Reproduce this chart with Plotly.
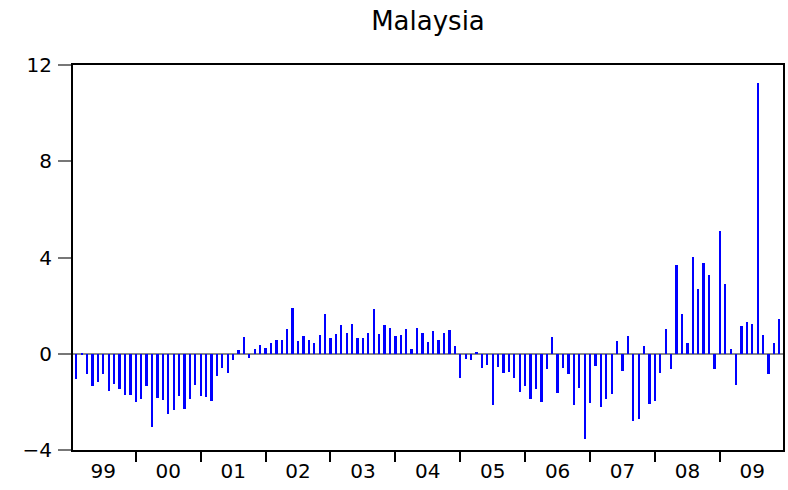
import plotly.graph_objects as go

# Monthly series, 1999M02 .. 2009M12
first_month_index = 1  # months after Jan 1999 (Feb 1999)
values = [
    # 1999 (Feb-Dec)
    -1.06, -0.04, -0.84, -1.32, -1.16, -0.85, -1.54, -1.24, -1.47, -1.70, -1.70,
    # 2000
    -2.01, -1.89, -1.36, -3.03, -1.85, -1.92, -2.50, -2.33, -1.74, -2.31, -1.90, -1.29,
    # 2001
    -1.74, -1.78, -1.97, -0.94, -0.58, -0.78, -0.28, 0.14, 0.71, -0.18, 0.19, 0.36,
    # 2002
    0.22, 0.45, 0.58, 0.58, 1.01, 1.92, 0.54, 0.75, 0.58, 0.43, 0.79, 1.67,
    # 2003
    0.66, 0.83, 1.19, 0.87, 1.25, 0.67, 0.67, 0.87, 1.88, 0.84, 1.19, 1.05,
    # 2004
    0.75, 0.79, 1.01, 0.21, 1.07, 0.86, 0.47, 0.96, 0.56, 0.87, 0.97, 0.33,
    # 2005
    -1.01, -0.22, -0.26, 0.08, -0.61, -0.48, -2.11, -0.56, -0.79, -0.75, -1.02, -1.61,
    # 2006
    -1.32, -1.86, -1.47, -2.02, -0.62, 0.68, -1.65, -0.58, -0.85, -2.11, -1.43, -3.54,
    # 2007
    -2.04, -0.51, -2.22, -1.86, -1.69, 0.55, -0.71, 0.74, -2.78, -2.71, 0.33, -2.07,
    # 2008
    -1.96, -0.81, 1.04, -0.63, 3.68, 1.65, 0.44, 4.04, 2.71, 3.79, 3.29, -0.63,
    # 2009
    5.11, 2.88, 0.21, -1.31, 1.17, 1.32, 1.24, 11.24, 0.78, -0.85, 0.44, 1.46,
]
year_labels = ["99", "00", "01", "02", "03", "04", "05", "06", "07", "08", "09"]
y_ticks = [-4, 0, 4, 8, 12]

x = [first_month_index + i for i in range(len(values))]
year_mid = [12 * k + 6 for k in range(len(year_labels))]
year_bounds = [12 * k for k in range(1, len(year_labels))]

FONT = "DejaVu Sans"

fig = go.Figure()
fig.add_bar(x=x, y=values, width=0.42, marker_color="#0000FF",
            marker_line_width=0, showlegend=False)

fig.update_layout(
    width=788, height=490,
    margin=dict(l=73, r=3, t=65, b=40),
    paper_bgcolor="white", plot_bgcolor="white",
    font=dict(family=FONT, size=20, color="black"),
    title=dict(text="Malaysia", x=0.5, xref="paper", xanchor="center",
               y=1 - 21 / 490, yref="container", yanchor="middle",
               font=dict(family=FONT, size=26, color="black")),
    bargap=0,
)
fig.update_xaxes(
    range=[0.39, 131.68],
    tickmode="array", tickvals=year_mid, ticktext=year_labels,
    ticks="", ticklabelstandoff=2,
    minor=dict(tickmode="array", tickvals=year_bounds, ticks="outside",
               ticklen=10, tickwidth=2, tickcolor="black"),
    showgrid=False, zeroline=False,
    showline=True, linecolor="black", linewidth=2, mirror=True,
)
fig.update_yaxes(
    range=[-4, 12],
    tickmode="array", tickvals=y_ticks,
    ticks="outside", ticklen=13, tickwidth=1.5, tickcolor="#777777",
    ticklabelstandoff=2,
    showgrid=False,
    zeroline=True, zerolinecolor="#8a8a8a", zerolinewidth=2,
    showline=True, linecolor="black", linewidth=2, mirror=True,
)

fig.write_html("out.html", config={"displayModeBar": False},
               post_script="document.body.style.margin='0';")
